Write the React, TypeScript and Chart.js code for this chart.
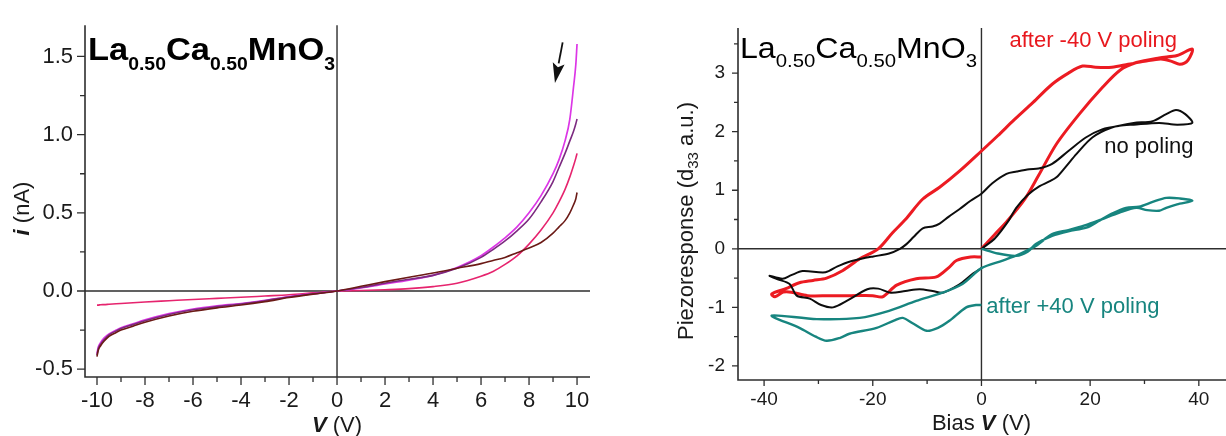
import React, { useEffect, useRef } from "react";
import { Chart, registerables } from "chart.js";
Chart.register(...registerables);

const FONT = "'Liberation Sans', Arial, Helvetica, sans-serif";

// ---------------- LEFT PANEL DATA: I-V curves ----------------
const leftVoltage = [-10, -9.95, -9.85, -9.7, -9.5, -9.2, -9, -8.5, -8, -7, -6, -5, -4, -3, -2, -1, 0, 1, 2, 3, 4, 5, 6, 6.5, 7, 7.5, 8, 8.5, 9, 9.25, 9.5, 9.7, 9.85, 9.95, 10];
const magentaCurrent = [-0.4, -0.36, -0.33, -0.3, -0.275, -0.25, -0.235, -0.21, -0.185, -0.145, -0.115, -0.095, -0.08, -0.06, -0.035, -0.017, 0, 0.02, 0.045, 0.07, 0.1, 0.15, 0.225, 0.28, 0.34, 0.41, 0.5, 0.61, 0.75, 0.84, 0.96, 1.1, 1.3, 1.45, 1.58];
const purpleCurrent = [-0.41, -0.37, -0.34, -0.31, -0.28, -0.255, -0.24, -0.215, -0.19, -0.15, -0.12, -0.1, -0.083, -0.062, -0.038, -0.018, 0, 0.022, 0.05, 0.075, 0.1, 0.145, 0.215, 0.265, 0.32, 0.385, 0.46, 0.57, 0.7, 0.79, 0.88, 0.96, 1.02, 1.07, 1.1];
const brownCurrent = [-0.42, -0.38, -0.35, -0.32, -0.29, -0.265, -0.25, -0.225, -0.2, -0.16, -0.13, -0.108, -0.09, -0.068, -0.042, -0.02, 0, 0.03, 0.06, 0.088, 0.115, 0.145, 0.175, 0.195, 0.215, 0.245, 0.275, 0.31, 0.37, 0.41, 0.45, 0.5, 0.55, 0.59, 0.63];
const crimsonCurrent = [-0.09, -0.09, -0.088, -0.087, -0.085, -0.082, -0.08, -0.075, -0.07, -0.062, -0.054, -0.047, -0.04, -0.032, -0.024, -0.012, 0, 0.003, 0.008, 0.015, 0.028, 0.05, 0.095, 0.125, 0.17, 0.225, 0.3, 0.39, 0.5, 0.57, 0.65, 0.73, 0.8, 0.85, 0.88];

const leftXMajor = [-10, -8, -6, -4, -2, 0, 2, 4, 6, 8, 10];
const leftXMinor = [-9, -7, -5, -3, -1, 1, 3, 5, 7, 9];
const leftYMajor = [-0.5, 0, 0.5, 1, 1.5];
const leftYMinor = [-0.25, 0.25, 0.75, 1.25];
const arrowFrom = [9.4, 1.59];
const arrowTo = [9.08, 1.33];

// ---------------- RIGHT PANEL DATA: piezoresponse loops ----------------
const redBias = [0, 2.4, 4.8, 8, 10.5, 13.8, 18, 22.2, 25.5, 28.5, 32.7, 36, 38.8, 38, 36.5, 35, 33, 30, 27, 24, 21, 18.6, 16, 13, 9.5, 6, 3, 0, -4, -7.7, -10.8, -14, -16.4, -19, -22.4, -25.5, -28.5, -31, -33.5, -36, -38.6, -38, -36.5, -35, -32, -28, -24, -20, -18.2, -15.6, -12, -8.3, -6, -4.6, -2, 0];
const redResp = [0, 0.24, 0.48, 0.85, 1.25, 1.79, 2.3, 2.75, 3.05, 3.18, 3.26, 3.3, 3.41, 3.22, 3.15, 3.2, 3.24, 3.2, 3.15, 3.1, 3.1, 3.12, 3.0, 2.81, 2.5, 2.2, 1.93, 1.67, 1.33, 1.05, 0.85, 0.5, 0.27, 0, -0.17, -0.37, -0.5, -0.54, -0.58, -0.68, -0.77, -0.82, -0.74, -0.74, -0.8, -0.8, -0.8, -0.8, -0.82, -0.62, -0.51, -0.48, -0.32, -0.2, -0.14, -0.14];

const blackBias = [0, 2.5, 5, 6.4, 8.5, 10.7, 12.5, 13.8, 15.5, 17.5, 20.4, 24, 28, 31.5, 34, 35.8, 37.5, 38.8, 36, 32.7, 28, 25.4, 22.2, 19.2, 16, 13, 10.5, 8.8, 6.5, 4.6, 2, 0, -2, -4, -6, -7.7, -9, -10.8, -12.5, -13.8, -15, -17, -19.9, -21.1, -24.3, -26.5, -28.7, -32.9, -35, -36.6, -39, -37.5, -35.3, -34, -31.6, -29.5, -27.3, -24.8, -21, -19, -16.7, -14, -11.4, -9, -7.2, -5, -3.5, -1.5, 0];
const blackResp = [0, 0.18, 0.48, 0.7, 0.92, 1.07, 1.15, 1.22, 1.4, 1.62, 1.9, 2.07, 2.15, 2.18, 2.3, 2.37, 2.3, 2.15, 2.12, 2.15, 2.12, 2.1, 2.04, 1.9, 1.67, 1.45, 1.37, 1.36, 1.32, 1.28, 1.12, 0.94, 0.82, 0.68, 0.55, 0.43, 0.38, 0.35, 0.2, 0.08, 0, -0.08, -0.13, -0.15, -0.22, -0.3, -0.4, -0.38, -0.45, -0.51, -0.46, -0.52, -0.6, -0.8, -0.85, -0.96, -1.0, -0.89, -0.69, -0.68, -0.75, -0.72, -0.69, -0.72, -0.75, -0.66, -0.57, -0.42, -0.33];

const tealBias = [0, 3, 6.4, 8.5, 10, 13, 16, 19.3, 21.7, 24, 26.6, 29, 31.5, 34, 36.5, 38.8, 36, 34, 32.7, 30.5, 28.5, 25.4, 22, 19, 16, 13, 10, 7, 3.9, 0, -3.5, -7.2, -12, -17, -22.4, -30.3, -38.6, -33.5, -30.5, -28.5, -26, -24.3, -19.3, -16, -14.5, -12.5, -10.1, -8, -5.9, -2.8, -1, 0];
const tealResp = [0, -0.08, -0.12, -0.05, 0.08, 0.22, 0.3, 0.36, 0.48, 0.6, 0.7, 0.72, 0.8, 0.87, 0.86, 0.82, 0.76, 0.7, 0.65, 0.66, 0.7, 0.62, 0.5, 0.4, 0.32, 0.25, 0.05, -0.09, -0.2, -0.33, -0.6, -0.75, -0.89, -1.06, -1.18, -1.2, -1.14, -1.35, -1.5, -1.57, -1.52, -1.45, -1.35, -1.22, -1.18, -1.28, -1.4, -1.35, -1.23, -1.0, -0.96, -0.96];

const rightXMajor = [-40, -20, 0, 20, 40];
const rightXMinor = [-30, -10, 10, 30];
const rightYMajor = [-2, -1, 0, 1, 2, 3];
const rightYMinor = [-1.5, -0.5, 0.5, 1.5, 2.5, 3.5];

const labelRedPos = [5.15, 3.45];
const labelBlackPos = [22.6, 1.64];
const labelTealPos = [0.9, -1.09];

// ---------------- helpers ----------------
type Part = { t: string; sub?: boolean; bi?: boolean };

function fontFor(p: Part, size: number, subSize: number, weight: string) {
  const sz = p.sub ? subSize : size;
  const style = p.bi ? "italic bold" : weight;
  return `${style} ${sz}px ${FONT}`;
}

function drawRich(
  ctx: CanvasRenderingContext2D,
  parts: Part[],
  size: number,
  subSize: number,
  subDrop: number,
  weight: string,
  center: boolean,
  color: string,
  targetW?: number
) {
  ctx.save();
  const ws: number[] = [];
  let total = 0;
  for (const p of parts) {
    ctx.font = fontFor(p, size, subSize, weight);
    const w = ctx.measureText(p.t).width;
    ws.push(w);
    total += w;
  }
  const sx = targetW ? targetW / total : 1;
  ctx.scale(sx, 1);
  let cx = center ? -total / 2 : 0;
  ctx.textBaseline = "alphabetic";
  ctx.textAlign = "left";
  ctx.fillStyle = color;
  parts.forEach((p, i) => {
    ctx.font = fontFor(p, size, subSize, weight);
    ctx.fillText(p.t, cx, p.sub ? subDrop : 0);
    cx += ws[i];
  });
  ctx.restore();
}

type TickSpec = { xMaj: number[]; xMin: number[]; yMaj: number[]; yMin: number[]; maj: number; min: number };

function drawFrame(chart: any, t: TickSpec) {
  const { ctx, chartArea: a } = chart;
  const xs = chart.scales.x;
  const ys = chart.scales.y;
  ctx.save();
  ctx.strokeStyle = "#2e2e2e";
  ctx.lineWidth = 1.6;
  ctx.beginPath();
  ctx.moveTo(a.left, a.top);
  ctx.lineTo(a.left, a.bottom);
  ctx.lineTo(a.right, a.bottom);
  ctx.stroke();
  const x0 = xs.getPixelForValue(0);
  const y0 = ys.getPixelForValue(0);
  ctx.lineWidth = 1.4;
  ctx.beginPath();
  ctx.moveTo(a.left, y0);
  ctx.lineTo(a.right, y0);
  ctx.moveTo(x0, a.top);
  ctx.lineTo(x0, a.bottom);
  ctx.stroke();
  ctx.lineWidth = 1.3;
  ctx.beginPath();
  for (const v of t.xMaj) { const p = xs.getPixelForValue(v); ctx.moveTo(p, a.bottom); ctx.lineTo(p, a.bottom + t.maj); }
  for (const v of t.xMin) { const p = xs.getPixelForValue(v); ctx.moveTo(p, a.bottom); ctx.lineTo(p, a.bottom + t.min); }
  for (const v of t.yMaj) { const p = ys.getPixelForValue(v); ctx.moveTo(a.left, p); ctx.lineTo(a.left - t.maj, p); }
  for (const v of t.yMin) { const p = ys.getPixelForValue(v); ctx.moveTo(a.left, p); ctx.lineTo(a.left - t.min, p); }
  ctx.stroke();
  ctx.restore();
}

function axisCfg(min: number, max: number, ticks: number[], fmt: (v: number) => string, fontSize: number, padding: number, fit: (s: any) => void) {
  return {
    type: "linear" as const,
    min,
    max,
    grid: { display: false, drawTicks: false, tickLength: 0 },
    border: { display: false },
    afterBuildTicks: (s: any) => { s.ticks = ticks.map((v) => ({ value: v })); },
    afterFit: fit,
    ticks: {
      autoSkip: false,
      maxRotation: 0,
      minRotation: 0,
      padding,
      color: "#1a1a1a",
      font: { family: FONT, size: fontSize },
      callback: (v: any) => fmt(Number(v)),
    },
  };
}

function pts(xs: number[], ys: number[]) {
  return xs.map((x, i) => ({ x, y: ys[i] }));
}

function lineDs(data: { x: number; y: number }[], color: string, width: number, tension: number, monotone = false) {
  return {
    data,
    borderColor: color,
    backgroundColor: color,
    borderWidth: width,
    pointRadius: 0,
    showLine: true,
    fill: false,
    tension,
    cubicInterpolationMode: monotone ? "monotone" : "default",
  };
}

const FORMULA: Part[] = [
  { t: "La" }, { t: "0.50", sub: true }, { t: "Ca" }, { t: "0.50", sub: true }, { t: "MnO" }, { t: "3", sub: true },
];

export default function App() {
  const leftRef = useRef<HTMLCanvasElement>(null);
  const rightRef = useRef<HTMLCanvasElement>(null);

  useEffect(() => {
    const leftPlugin = {
      id: "leftDeco",
      beforeDatasetsDraw(chart: any) {
        drawFrame(chart, { xMaj: leftXMajor, xMin: leftXMinor, yMaj: leftYMajor, yMin: leftYMinor, maj: 8, min: 5 });
      },
      afterDraw(chart: any) {
        const { ctx, chartArea: a } = chart;
        const xs = chart.scales.x;
        const ys = chart.scales.y;
        // title
        ctx.save();
        ctx.translate(a.left + 3, a.top + 35);
        drawRich(ctx, FORMULA, 32, 18, 10, "bold", false, "#000", 247);
        ctx.restore();
        // y title
        ctx.save();
        ctx.translate(28.5, 208.5);
        ctx.rotate(-Math.PI / 2);
        drawRich(ctx, [{ t: "i", bi: true }, { t: " (nA)" }], 22, 15, 5, "normal", true, "#1a1a1a");
        ctx.restore();
        // x title
        ctx.save();
        ctx.translate(xs.getPixelForValue(0), 432);
        drawRich(ctx, [{ t: "V", bi: true }, { t: " (V)" }], 22, 15, 5, "normal", true, "#1a1a1a");
        ctx.restore();
        // arrow
        const tx = xs.getPixelForValue(arrowFrom[0]);
        const ty = ys.getPixelForValue(arrowFrom[1]);
        const hx = xs.getPixelForValue(arrowTo[0]);
        const hy = ys.getPixelForValue(arrowTo[1]);
        const dx = hx - tx, dy = hy - ty;
        const len = Math.hypot(dx, dy);
        const ux = dx / len, uy = dy / len;
        const hl = 20, hw = 6;
        const bx = hx - ux * hl, by = hy - uy * hl;
        ctx.save();
        ctx.strokeStyle = "#111";
        ctx.fillStyle = "#111";
        ctx.lineWidth = 1.8;
        ctx.beginPath();
        ctx.moveTo(tx, ty);
        ctx.lineTo(bx, by);
        ctx.stroke();
        ctx.beginPath();
        ctx.moveTo(hx, hy);
        ctx.lineTo(bx - uy * hw, by + ux * hw);
        ctx.lineTo(bx + ux * 4, by + uy * 4);
        ctx.lineTo(bx + uy * hw, by - ux * hw);
        ctx.closePath();
        ctx.fill();
        ctx.restore();
      },
    };

    const rightPlugin = {
      id: "rightDeco",
      beforeDatasetsDraw(chart: any) {
        drawFrame(chart, { xMaj: rightXMajor, xMin: rightXMinor, yMaj: rightYMajor, yMin: rightYMinor, maj: 6, min: 4 });
      },
      afterDraw(chart: any) {
        const { ctx, chartArea: a } = chart;
        const xs = chart.scales.x;
        const ys = chart.scales.y;
        ctx.save();
        ctx.translate(a.left + 2, a.top + 30);
        drawRich(ctx, FORMULA, 30, 19, 9, "normal", false, "#000", 237);
        ctx.restore();
        // y title (canvas-relative coords)
        ctx.save();
        ctx.translate(a.left - 45, 221);
        ctx.rotate(-Math.PI / 2);
        drawRich(ctx, [{ t: "Piezoresponse (d" }, { t: "33", sub: true }, { t: " a.u.)" }], 22, 15, 5, "normal", true, "#1a1a1a");
        ctx.restore();
        // x title
        ctx.save();
        ctx.translate(xs.getPixelForValue(0), 430);
        drawRich(ctx, [{ t: "Bias " }, { t: "V", bi: true }, { t: " (V)" }], 22, 15, 5, "normal", true, "#1a1a1a");
        ctx.restore();
        // annotations
        const ann: [string, number[], string][] = [
          ["after -40 V poling", labelRedPos, "#e8181e"],
          ["no poling", labelBlackPos, "#111"],
          ["after +40 V poling", labelTealPos, "#17857f"],
        ];
        ctx.save();
        ctx.font = `22px ${FONT}`;
        ctx.textBaseline = "alphabetic";
        ctx.textAlign = "left";
        for (const [t, p, c] of ann) {
          ctx.fillStyle = c;
          ctx.fillText(t, xs.getPixelForValue(p[0]), ys.getPixelForValue(p[1]));
        }
        ctx.restore();
      },
    };

    const left = new Chart(leftRef.current!, {
      type: "scatter",
      data: {
        datasets: [
          lineDs(pts(leftVoltage, brownCurrent), "#6b1a16", 1.6, 0.4, true),
          lineDs(pts(leftVoltage, purpleCurrent), "#7c2a80", 1.6, 0.4, true),
          lineDs(pts(leftVoltage, magentaCurrent), "#dc36e6", 1.7, 0.4, true),
          lineDs(pts(leftVoltage, crimsonCurrent), "#e6246e", 1.6, 0.4, true),
        ] as any,
      },
      options: {
        responsive: false,
        animation: false,
        devicePixelRatio: 1,
        layout: { padding: { left: 0, top: 10, right: 20, bottom: 0 } },
        plugins: { legend: { display: false }, tooltip: { enabled: false }, title: { display: false } },
        scales: {
          x: axisCfg(-10.5, 10.54, leftXMajor, (v) => String(v), 22, 11, (s: any) => { s.height = 59; }),
          y: axisCfg(-0.55, 1.7, leftYMajor, (v) => v.toFixed(1), 22, 12, (s: any) => { s.width = 85; }),
        },
      } as any,
      plugins: [leftPlugin],
    });

    const right = new Chart(rightRef.current!, {
      type: "scatter",
      data: {
        datasets: [
          lineDs(pts(tealBias, tealResp), "#17857f", 2.4, 0.3),
          lineDs(pts(blackBias, blackResp), "#0d0d0d", 2.0, 0.3),
          lineDs(pts(redBias, redResp), "#ec1b22", 3.0, 0.3),
        ] as any,
      },
      options: {
        responsive: false,
        animation: false,
        devicePixelRatio: 1,
        layout: { padding: { left: 0, top: 28, right: 0, bottom: 0 } },
        plugins: { legend: { display: false }, tooltip: { enabled: false }, title: { display: false } },
        scales: {
          x: axisCfg(-44.8, 45, rightXMajor, (v) => String(v), 19, 8, (s: any) => { s.height = 56; }),
          y: axisCfg(-2.24, 3.77, rightYMajor, (v) => String(v), 19, 13, (s: any) => { s.width = 128; }),
        },
      } as any,
      plugins: [rightPlugin],
    });

    return () => {
      left.destroy();
      right.destroy();
    };
  }, []);

  return (
    <div style={{ position: "absolute", left: 0, top: 0, width: 1226, height: 436, overflow: "hidden", background: "#fff" }}>
      <canvas ref={leftRef} width={610} height={436} style={{ position: "absolute", left: 0, top: 0, width: 610, height: 436 }} />
      <canvas ref={rightRef} width={616} height={436} style={{ position: "absolute", left: 610, top: 0, width: 616, height: 436 }} />
    </div>
  );
}
